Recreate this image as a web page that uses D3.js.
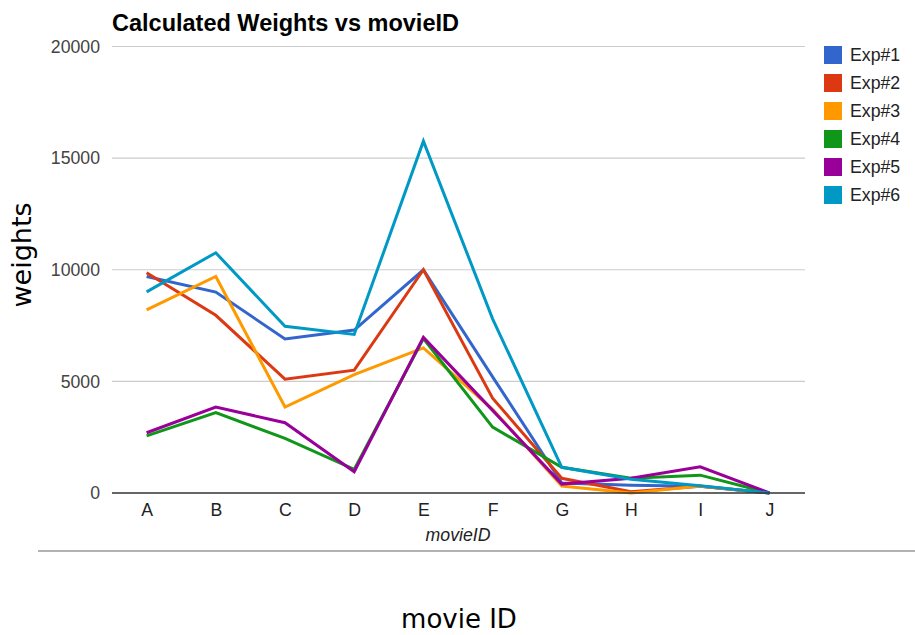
<!DOCTYPE html>
<html>
<head>
<meta charset="utf-8">
<script src="https://cdn.jsdelivr.net/npm/d3@7/dist/d3.min.js"></script>
<style>
  html, body { margin: 0; padding: 0; background: #fff; }
  svg { display: block; font-family: "Liberation Sans", Arial, sans-serif; }
</style>
</head>
<body>
<svg id="chart" width="915" height="635"></svg>
<script>
// Movie categories along the x axis
const movies = ["A", "B", "C", "D", "E", "F", "G", "H", "I", "J"];

// Calculated weights per experiment
const exp1 = [9700, 9000, 6900, 7300, 10000, 5200, 450, 350, 300, 0];
const exp2 = [9870, 7960, 5100, 5500, 10000, 4250, 660, 60, 300, 0];
const exp3 = [8200, 9700, 3850, 5300, 6500, 3750, 310, 0, 310, 0];
const exp4 = [2560, 3600, 2450, 1060, 6920, 2950, 1150, 660, 800, 0];
const exp5 = [2700, 3850, 3150, 950, 6970, 3700, 400, 660, 1170, 0];
const exp6 = [9010, 10760, 7470, 7100, 15760, 7800, 1150, 620, 330, 0];

const seriesNames = ["Exp#1", "Exp#2", "Exp#3", "Exp#4", "Exp#5", "Exp#6"];
const seriesValues = [exp1, exp2, exp3, exp4, exp5, exp6];
const seriesColors = ["#3366cc", "#dc3912", "#ff9900", "#109618", "#990099", "#0099c6"];

const yTicks = [0, 5000, 10000, 15000, 20000];

const svg = d3.select("#chart");

const plot = { left: 112, right: 804, top: 46.5, bottom: 493 };

const x = d3.scalePoint().domain(movies).range([plot.left, plot.right]).padding(0.5);
const y = d3.scaleLinear().domain([0, 20000]).range([plot.bottom, plot.top]);

// Horizontal gridlines
svg.append("g")
  .selectAll("line")
  .data(yTicks.filter(d => d !== 0))
  .join("line")
  .attr("x1", plot.left).attr("x2", plot.right + 1)
  .attr("y1", d => y(d)).attr("y2", d => y(d))
  .attr("stroke", "#cccccc").attr("stroke-width", 1.2);

// Y axis labels
const yAxis = d3.axisLeft(y).tickValues(yTicks).tickSize(0).tickPadding(12).tickFormat(d3.format("d"));
const yg = svg.append("g").attr("transform", `translate(${plot.left},0)`).call(yAxis);
yg.select(".domain").remove();
yg.selectAll("text")
  .attr("font-family", "Liberation Sans, Arial, sans-serif")
  .attr("font-size", 17.7).attr("fill", "#444");

// X axis labels
const xAxis = d3.axisBottom(x).tickSize(0).tickPadding(10);
const xg = svg.append("g").attr("transform", `translate(0,${plot.bottom})`).call(xAxis);
xg.select(".domain").remove();
xg.selectAll("text")
  .attr("font-family", "Liberation Sans, Arial, sans-serif")
  .attr("font-size", 17.7).attr("fill", "#222");

// Series lines
const line = d3.line()
  .x((d, i) => x(movies[i]))
  .y(d => y(d));

svg.append("g")
  .selectAll("path")
  .data(seriesValues)
  .join("path")
  .attr("d", d => line(d))
  .attr("fill", "none")
  .attr("stroke", (d, i) => seriesColors[i])
  .attr("stroke-width", 3)
  .attr("stroke-linejoin", "miter");

// Baseline at zero
svg.append("line")
  .attr("x1", plot.left).attr("x2", plot.right + 1)
  .attr("y1", y(0)).attr("y2", y(0))
  .attr("stroke", "#333").attr("stroke-width", 1.6);

// Title
svg.append("text")
  .attr("x", 112).attr("y", 31)
  .attr("font-size", 23.5).attr("font-weight", "bold").attr("fill", "#000")
  .text("Calculated Weights vs movieID");

// Inner x axis title
svg.append("text")
  .attr("x", 458).attr("y", 541)
  .attr("text-anchor", "middle")
  .attr("font-size", 17.7).attr("font-style", "italic").attr("fill", "#222")
  .text("movieID");

// Legend
const legend = svg.append("g").selectAll("g")
  .data(seriesNames)
  .join("g")
  .attr("transform", (d, i) => `translate(824,${46 + i * 28})`);
legend.append("rect")
  .attr("width", 18).attr("height", 18)
  .attr("fill", (d, i) => seriesColors[i]);
legend.append("text")
  .attr("x", 26).attr("y", 15)
  .attr("font-size", 17.7).attr("fill", "#222")
  .text(d => d);

// Separator under the chart
svg.append("line")
  .attr("x1", 38).attr("x2", 915)
  .attr("y1", 551).attr("y2", 551)
  .attr("stroke", "#999").attr("stroke-width", 1.6);

// Outer axis captions
svg.append("text")
  .attr("transform", "translate(31,255) rotate(-90)")
  .attr("text-anchor", "middle")
  .attr("font-family", "DejaVu Sans, sans-serif")
  .attr("font-size", 27).attr("fill", "#000")
  .text("weights");

svg.append("text")
  .attr("x", 459).attr("y", 628)
  .attr("text-anchor", "middle")
  .attr("font-family", "DejaVu Sans, sans-serif")
  .attr("font-size", 26).attr("fill", "#000")
  .text("movie ID");
</script>
</body>
</html>
